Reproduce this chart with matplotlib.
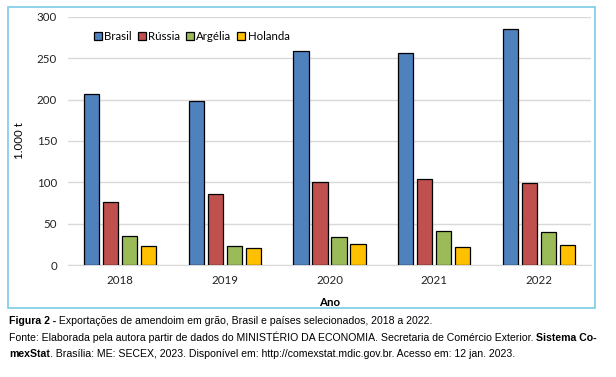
import matplotlib.pyplot as plt
import numpy as np
from matplotlib.patches import Rectangle

# dados (1.000 t)
anos = ['2018', '2019', '2020', '2021', '2022']
paises = ['Brasil', 'Rússia', 'Argélia', 'Holanda']
brasil = [207, 198, 259, 257, 285]
russia = [76.5, 86, 100, 103.5, 99]
argelia = [34.5, 23, 33.5, 41, 40]
holanda = [22.5, 21, 25, 21.5, 24]
cores = ['#4F81BD', '#C0504D', '#9BBB59', '#FFC000']

plt.rcParams['font.family'] = ['Lato', 'DejaVu Sans']

fig = plt.figure(figsize=(6.16, 3.77), dpi=100)

# moldura do gráfico
fig.patches.append(Rectangle((8 / 616, 1 - 308 / 377), 587 / 616, 301 / 377,
                             transform=fig.transFigure, fill=False,
                             edgecolor='#7CCBE6', linewidth=1.2))

ax = fig.add_axes([68 / 616, 1 - 265 / 377, 523 / 616, 248 / 377])

x = np.arange(len(anos))
passo = 0.182
largura = 0.145
series = [brasil, russia, argelia, holanda]
for i, (nome, vals) in enumerate(zip(paises, series)):
    ax.bar(x + (i - 1.5) * passo, vals, width=largura, color=cores[i],
           edgecolor='black', linewidth=0.9, label=nome, zorder=3)

ax.set_xlim(-0.5, len(anos) - 0.5)
ax.set_ylim(0, 300)
ax.set_yticks(range(0, 301, 50))
ax.set_xticks(x)
ax.set_xticklabels(anos)
ax.tick_params(axis='both', length=0, labelsize=8.3, colors='#222222')
ax.tick_params(axis='y', pad=8)
ax.tick_params(axis='x', pad=7)
ax.grid(axis='y', color='#D9D9D9', linewidth=1, zorder=0)
for s in ['top', 'right', 'left']:
    ax.spines[s].set_visible(False)
ax.spines['bottom'].set_color('#D9D9D9')

ax.set_ylabel('1.000 t', fontsize=8.3)
ax.yaxis.set_label_coords(-0.082, 0.5)
ax.set_xlabel('Ano', fontsize=8.3, fontweight='bold', labelpad=8)

ax.legend(loc='upper left', bbox_to_anchor=(0.03, 0.985), ncol=4, frameon=False,
          fontsize=8.3, handlelength=0.7, handleheight=0.7, handletextpad=0.2,
          columnspacing=0.5)

# legenda da figura (texto com partes em negrito)
fs = 7.6
fam = ['Liberation Sans', 'DejaVu Sans']


def escreve(partes, x0, y0):
    prev = fig.text(x0, y0, partes[0][0], fontsize=fs, family=fam,
                    fontweight=partes[0][1], va='bottom')
    for txt, peso in partes[1:]:
        prev = fig.add_artist(plt.Annotation(txt, xy=(1, 0), xycoords=prev,
                                             va='bottom', ha='left', fontsize=fs,
                                             family=fam, fontweight=peso))


escreve([('Figura 2 -', 'bold'),
         (' Exportações de amendoim em grão, Brasil e países selecionados, 2018 a 2022.', 'normal')],
        9 / 616, 1 - 326 / 377)
escreve([('Fonte: Elaborada pela autora partir de dados do MINISTÉRIO DA ECONOMIA. Secretaria de Comércio Exterior. ', 'normal'),
         ('Sistema Co-', 'bold')],
        9 / 616, 1 - 343 / 377)
escreve([('mexStat', 'bold'),
         ('. Brasília: ME: SECEX, 2023. Disponível em: http://comexstat.mdic.gov.br. Acesso em: 12 jan. 2023.', 'normal')],
        9 / 616, 1 - 359 / 377)

fig.savefig('out.png', dpi=100)
